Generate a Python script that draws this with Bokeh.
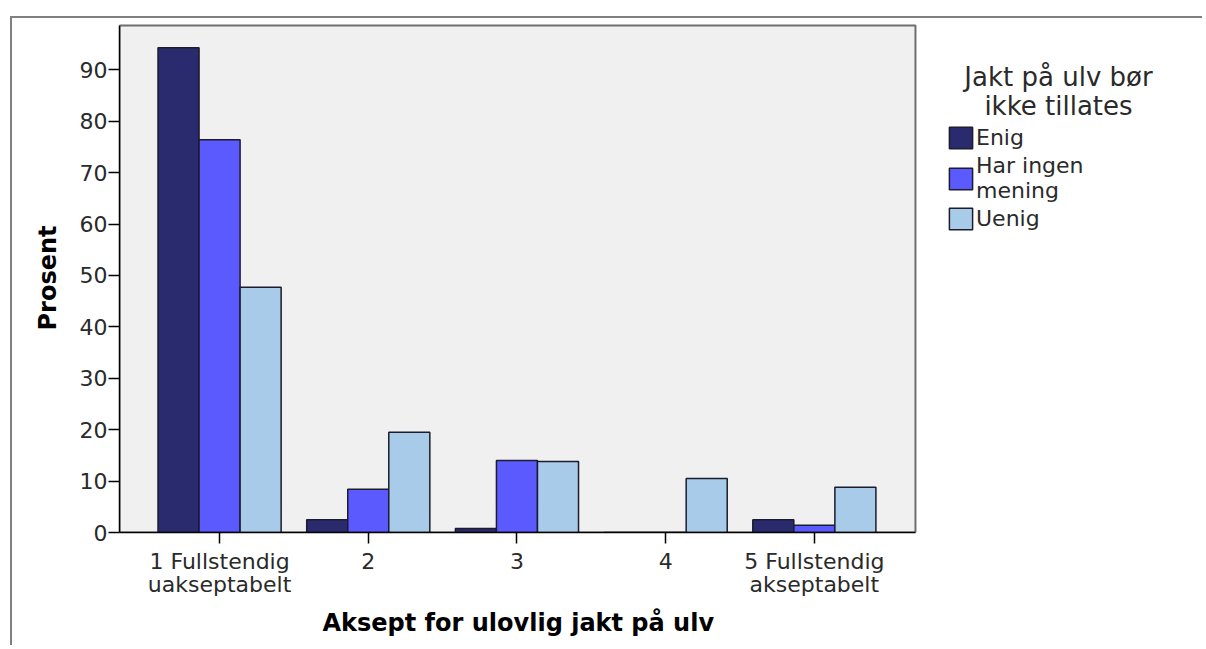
from bokeh.plotting import figure
from bokeh.models import Legend, LegendItem, Label, Range1d, FixedTicker, ColumnDataSource, Title
from bokeh.transform import dodge
from bokeh.embed import file_html
from bokeh.resources import INLINE

categories = [1, 2, 3, 4, 5]
category_labels = ["1 Fullstendig\nuakseptabelt", "2", "3", "4", "5 Fullstendig\nakseptabelt"]
series_names = ["Enig", "Har ingen\nmening", "Uenig"]
enig = [94.3, 2.5, 0.8, 0.0, 2.5]
har_ingen_mening = [76.4, 8.4, 14.0, 0.0, 1.4]
uenig = [47.7, 19.5, 13.8, 10.5, 8.8]
y_ticks = [0, 10, 20, 30, 40, 50, 60, 70, 80, 90]
legend_title = ["Jakt på ulv bør", "ikke tillates"]
x_title = "Aksept for ulovlig jakt på ulv"
y_title = "Prosent"

colors = ["#2a2a6e", "#5a5aff", "#a9cbea"]
FONT = "DejaVu Sans"

X0, X1 = 0.327, 5.68      # visible plot area (data units)
Y1 = 98.6

src = ColumnDataSource(dict(x=categories, enig=enig, har=har_ingen_mening, uenig=uenig))

p = figure(
    output_backend="svg", toolbar_location=None,
    frame_width=1066, frame_height=509,
    x_range=Range1d(X0, 7.496), y_range=Range1d(0, 99.0),
    min_border_left=107, min_border_top=5, min_border_right=17, min_border_bottom=113,
)
p.margin = (16, 0, 0, 10)
p.styles = {"border-left": "2px solid #808080", "border-top": "2px solid #808080"}

p.background_fill_color = "white"
p.border_fill_color = "white"
p.outline_line_color = None
p.grid.visible = False

# plot area panel
p.quad(left=[X0], right=[X1], bottom=[0], top=[Y1],
       fill_color="#f0f0f0", line_color="#6e6e6e", line_width=2)

w = 0.276
renderers = []
for field, off, col in zip(["enig", "har", "uenig"], [-w, 0, w], colors):
    r = p.vbar(x=dodge("x", off), top=field, width=w, bottom=0, source=src,
               fill_color=col, line_color="#1c1c2c", line_width=1.5)
    renderers.append(r)

# axes
p.xaxis.ticker = FixedTicker(ticks=categories)
p.xaxis.major_label_overrides = {c: l for c, l in zip(categories, category_labels)}
p.yaxis.ticker = FixedTicker(ticks=y_ticks)
p.xaxis.bounds = (X0, X1)
p.yaxis.bounds = (0, Y1)
for ax in (p.xaxis, p.yaxis):
    ax.axis_line_color = "black"
    ax.axis_line_width = 1.5
    ax.major_tick_line_color = "black"
    ax.major_tick_line_width = 1.5
    ax.major_tick_in = 0
    ax.major_tick_out = 11
    ax.minor_tick_line_color = None
    ax.major_label_text_font = FONT
    ax.major_label_text_font_size = "22px"
    ax.major_label_text_color = "#2a2a2a"
    ax.axis_label_text_font = FONT
    ax.axis_label_text_font_size = "24px"
    ax.axis_label_text_font_style = "bold"
    ax.axis_label_text_color = "black"
p.xaxis.major_label_text_line_height = 0.95
p.xaxis.major_label_standoff = 5
p.yaxis.major_label_standoff = 1
p.yaxis.axis_label = y_title
p.yaxis.axis_label_standoff = 15

p.add_layout(Title(text=x_title, align="left", offset=203, standoff=12,
                   text_font=FONT, text_font_size="24px", text_font_style="bold",
                   text_color="black"), "below")

legend = Legend(
    items=[LegendItem(label=n, renderers=[r]) for n, r in zip(series_names, renderers)],
    location=(827, 300),
    background_fill_alpha=0, border_line_color=None,
    padding=0, margin=0, spacing=2,
    glyph_width=29, glyph_height=27, label_standoff=1,
    label_text_font=FONT, label_text_font_size="22px", label_text_line_height=0.95,
    label_text_color="#2a2a2a",
)
p.add_layout(legend, "center")

for txt, yy in zip(legend_title, [456, 427]):
    p.add_layout(Label(x=939, y=yy, x_units="screen", y_units="screen", text=txt,
                       text_align="center", text_baseline="alphabetic",
                       text_font=FONT, text_font_size="26px", text_color="#2a2a2a"))

open("out.html", "w").write(file_html(p, INLINE))
